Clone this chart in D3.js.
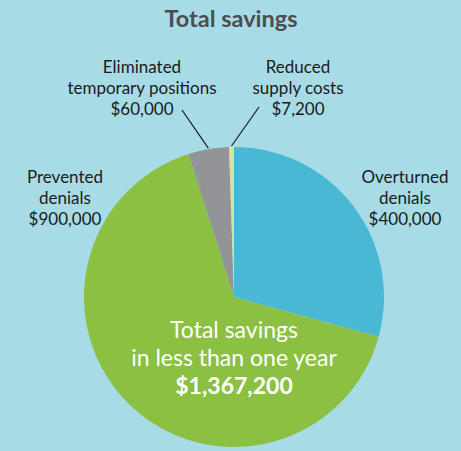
<!DOCTYPE html>
<html>
<head>
<meta charset="utf-8">
<script src="https://d3js.org/d3.v7.min.js"></script>
<style>
  body { margin: 0; background: #a7dce7; }
  text { font-family: Lato, "Open Sans", sans-serif; }
</style>
</head>
<body>
<script>
const width = 461;
const height = 451;

// data
const categories = ['Overturned denials', 'Prevented denials', 'Eliminated temporary positions', 'Reduced supply costs'];
const values = [400000, 900000, 60000, 7200];
const colors = ['#48b8d4', '#8cc043', '#929497', '#d7e39c'];
const totalLabel = '$1,367,200';

const cx = 234, cy = 297, radius = 150;

const fmt = d3.format('$,');

const svg = d3.select('body').append('svg')
    .attr('width', width)
    .attr('height', height);

svg.append('rect').attr('width', width).attr('height', height).attr('fill', '#a7dce7');

svg.append('text')
    .attr('x', 231)
    .attr('y', 27)
    .attr('text-anchor', 'middle')
    .attr('font-size', 23.5)
    .attr('font-weight', 'bold')
    .attr('fill', '#4d4d4f')
    .text('Total savings');

const arcs = d3.pie().sort(null)(values);
const arc = d3.arc().innerRadius(0).outerRadius(radius);

const g = svg.append('g').attr('transform', `translate(${cx},${cy})`);
g.selectAll('path')
    .data(arcs)
    .enter()
    .append('path')
        .attr('d', arc)
        .attr('fill', (d, i) => colors[i]);

// label blocks: [lines], center x, first baseline
const labels = [
    {lines: ['Overturned', 'denials'], x: 405, y: 183},
    {lines: ['Prevented', 'denials'], x: 65, y: 183},
    {lines: ['Eliminated', 'temporary positions'], x: 142, y: 73},
    {lines: ['Reduced', 'supply costs'], x: 298, y: 73}
];

labels.forEach((l, i) => {
    const t = svg.append('text')
        .attr('text-anchor', 'middle')
        .attr('font-size', 17)
        .attr('fill', '#1a1a1a');
    l.lines.concat([fmt(values[i])]).forEach((s, j) => {
        t.append('tspan').attr('x', l.x).attr('y', l.y + j * 21).text(s);
    });
});

// leader lines for the two thin slices
const leaderTops = [null, null, [182, 110], [259, 107]];
arcs.forEach((d, i) => {
    if (!leaderTops[i]) return;
    const a = (d.startAngle + d.endAngle) / 2;
    svg.append('line')
        .attr('x1', leaderTops[i][0])
        .attr('y1', leaderTops[i][1])
        .attr('x2', cx + Math.sin(a) * (radius + 1))
        .attr('y2', cy - Math.cos(a) * (radius + 1))
        .attr('stroke', '#1a1a1a')
        .attr('stroke-width', 1.2);
});

// center text
const center = svg.append('text')
    .attr('text-anchor', 'middle')
    .attr('fill', '#ffffff')
    .attr('font-size', 23);
center.append('tspan').attr('x', 234).attr('y', 338).text('Total savings');
center.append('tspan').attr('x', 234).attr('y', 366).text('in less than one year');
center.append('tspan').attr('x', 234).attr('y', 394).attr('font-weight', 'bold').text(totalLabel);
</script>
</body>
</html>
